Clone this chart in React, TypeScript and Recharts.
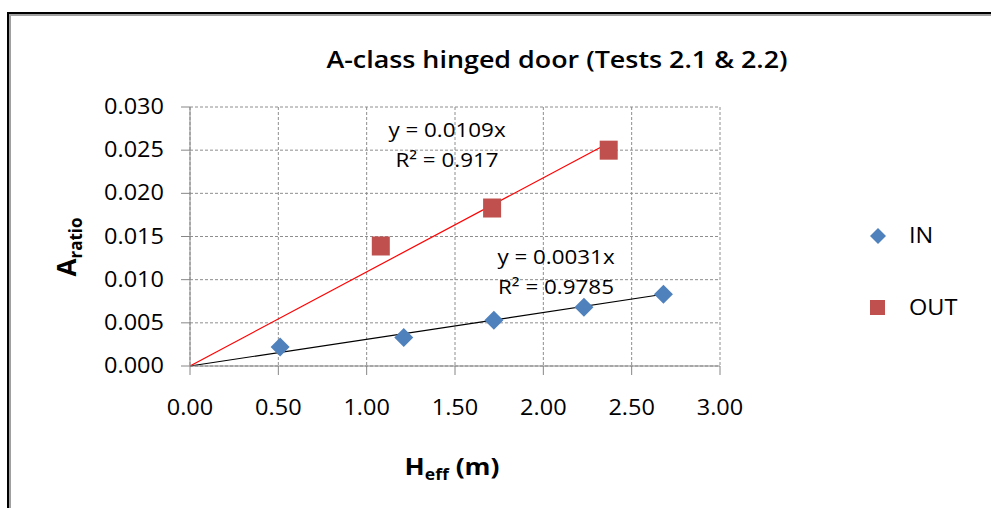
import React from 'react';
import { ScatterChart, Scatter, XAxis, YAxis, CartesianGrid, ReferenceLine, Legend } from 'recharts';

// IN series (blue diamonds)
const inH = [0.51, 1.21, 1.72, 2.23, 2.68];
const inA = [0.0022, 0.0033, 0.0053, 0.0068, 0.0083];
// OUT series (red squares)
const outH = [1.08, 1.71, 2.37];
const outA = [0.0139, 0.0183, 0.025];

// linear trendlines through the origin (from the chart's own equations)
const inSlope = 0.0031;
const outSlope = 0.0109;
const inLabel = ['y = 0.0031x', 'R² = 0.9785'];
const outLabel = ['y = 0.0109x', 'R² = 0.917'];

const xTicks = [0, 0.5, 1, 1.5, 2, 2.5, 3];
const yTicks = [0, 0.005, 0.01, 0.015, 0.02, 0.025, 0.03];

const inData = inH.map((x, i) => ({ x, y: inA[i] }));
const outData = outH.map((x, i) => ({ x, y: outA[i] }));
const inEnd = inH[inH.length - 1];
const outEnd = outH[outH.length - 1];

const FONT = '"Open Sans", "Noto Sans", sans-serif';
const SX = 1.12;
const LEGEND_W = 120;

const T = ({ x, y, size = 20, weight = 400, anchor = 'start', children }: any) => (
  <text
    transform={`translate(${x},${y}) scale(${SX},1)`}
    textAnchor={anchor}
    fontSize={size}
    fontWeight={weight}
    fontFamily={FONT}
    fill="#000"
  >
    {children}
  </text>
);

const XTick = ({ x, y, payload }: any) => (
  <T x={x} y={y + 38} size={21} anchor="middle">{payload.value.toFixed(2)}</T>
);

const YTick = ({ x, y, payload }: any) => (
  <T x={x - 15} y={y + 7} size={21} anchor="end">{payload.value.toFixed(3)}</T>
);

const Diamond = ({ cx, cy }: any) => (
  <polygon points={`${cx},${cy - 9.5} ${cx + 9.5},${cy} ${cx},${cy + 9.5} ${cx - 9.5},${cy}`} fill="#4F81BD" />
);

const Square = ({ cx, cy }: any) => (
  <rect x={cx - 9} y={cy - 9.5} width={18} height={19} fill="#C0504D" />
);

const LegendBox = () => (
  <div style={{ fontFamily: FONT, fontSize: 21, color: '#000', position: 'relative', width: LEGEND_W, height: 110 }}>
    <svg width={20} height={20} style={{ position: 'absolute', left: 0, top: 4 }}>
      <polygon points="10,2 18,10 10,18 2,10" fill="#4F81BD" />
    </svg>
    <div style={{ position: 'absolute', left: 41, top: -1, transform: `scaleX(${SX})`, transformOrigin: 'left' }}>IN</div>
    <svg width={20} height={20} style={{ position: 'absolute', left: 0, top: 76 }}>
      <rect x={2} y={2} width={15} height={15} fill="#C0504D" />
    </svg>
    <div style={{ position: 'absolute', left: 41, top: 71, transform: `scaleX(${SX})`, transformOrigin: 'left' }}>OUT</div>
  </div>
);

export default function App() {
  return (
    <div style={{ position: 'absolute', left: 0, top: 0, width: 991, height: 508, background: '#fff', overflow: 'hidden' }}>
      {/* chart frame (left/top edges visible) */}
      <div style={{ position: 'absolute', left: 7, top: 12, width: 1000, height: 600, borderLeft: '2px solid #000', borderTop: '2px solid #000' }}>
        <div style={{ width: '100%', height: '100%', borderLeft: '2px solid #a0a0a0', borderTop: '2px solid #a0a0a0' }} />
      </div>
      <div style={{ position: 'absolute', left: 0, top: 0 }}>
        <ScatterChart width={991} height={508} margin={{ top: 107, right: 271 - LEGEND_W, bottom: 0, left: 0 }}>
          <CartesianGrid stroke="#8e8e8e" strokeDasharray="3 2" />
          <XAxis
            type="number"
            dataKey="x"
            domain={[0, 3]}
            ticks={xTicks}
            height={142}
            tickSize={9}
            stroke="#868686"
            tick={<XTick />}
          />
          <YAxis
            type="number"
            dataKey="y"
            domain={[0, 0.03]}
            ticks={yTicks}
            width={190}
            tickSize={9}
            stroke="#868686"
            tick={<YTick />}
          />
          <Scatter name="IN" data={inData} shape={<Diamond />} isAnimationActive={false} />
          <Scatter name="OUT" data={outData} shape={<Square />} isAnimationActive={false} />
          <ReferenceLine
            segment={[{ x: 0, y: 0 }, { x: inEnd, y: inSlope * inEnd }]}
            stroke="#000"
            strokeWidth={1.2}
          />
          <ReferenceLine
            segment={[{ x: 0, y: 0 }, { x: outEnd, y: outSlope * outEnd }]}
            stroke="#ff0000"
            strokeWidth={1.2}
          />
          <Legend
            layout="vertical"
            verticalAlign="top"
            align="right"
            content={<LegendBox />}
            wrapperStyle={{ left: 868, top: 222, width: LEGEND_W }}
          />
        </ScatterChart>
      </div>
      <svg width={991} height={508} style={{ position: 'absolute', left: 0, top: 0, pointerEvents: 'none' }}>
        <T x={557} y={68} size={24} weight={600} anchor="middle">A-class hinged door (Tests 2.1 &amp; 2.2)</T>
        <T x={447} y={137} anchor="middle">{outLabel[0]}</T>
        <T x={447} y={167} anchor="middle">{outLabel[1]}</T>
        <T x={556} y={264} anchor="middle">{inLabel[0]}</T>
        <T x={556} y={294} anchor="middle">{inLabel[1]}</T>
        <text transform="translate(76,247) rotate(-90)" textAnchor="middle" fontFamily={FONT} fontWeight={700} fill="#000">
          <tspan fontSize={26}>A</tspan>
          <tspan fontSize={17} dy={6}>ratio</tspan>
        </text>
        <text transform="translate(452,475) scale(1.1,1)" textAnchor="middle" fontFamily={FONT} fontWeight={700} fill="#000">
          <tspan fontSize={24}>H</tspan>
          <tspan fontSize={16} dy={5}>eff</tspan>
          <tspan fontSize={24} dy={-5}> (m)</tspan>
        </text>
      </svg>
    </div>
  );
}
